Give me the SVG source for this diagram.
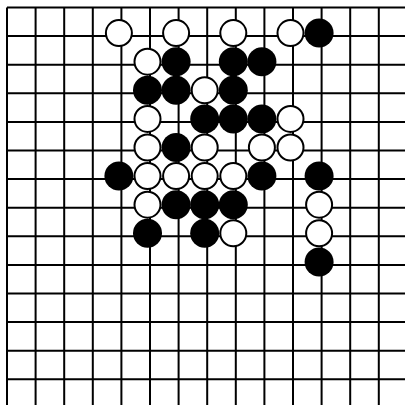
<svg xmlns="http://www.w3.org/2000/svg" width="405" height="405" viewBox="0 0 405 405">
<style>
.grid{stroke:#000;stroke-width:2;fill:none}
.b{fill:#000}
.w{fill:#fff;stroke:#000;stroke-width:2}
</style>
<rect width="405" height="405" fill="#fff"/>
<g id="grid" class="grid">
<path d="M7 7.5V405M35.6 7.5V405M64.2 7.5V405M92.8 7.5V405M121.4 7.5V405M150 7.5V405M178.6 7.5V405M207.2 7.5V405M235.8 7.5V405M264.4 7.5V405M293 7.5V405M321.6 7.5V405M350.2 7.5V405M378.8 7.5V405"/>
<path d="M7 7.5H405M7 36.1H405M7 64.7H405M7 93.3H405M7 121.9H405M7 150.5H405M7 179.1H405M7 207.7H405M7 236.3H405M7 264.9H405M7 293.5H405M7 322.1H405M7 350.7H405M7 379.3H405"/>
</g>
<g id="white-stones">
<circle class="w" cx="118.9" cy="33.1" r="13"/>
<circle class="w" cx="176.1" cy="33.1" r="13"/>
<circle class="w" cx="233.3" cy="33.1" r="13"/>
<circle class="w" cx="290.5" cy="33.1" r="13"/>
<circle class="w" cx="147.5" cy="61.7" r="13"/>
<circle class="w" cx="204.7" cy="90.3" r="13"/>
<circle class="w" cx="147.5" cy="118.9" r="13"/>
<circle class="w" cx="290.5" cy="118.9" r="13"/>
<circle class="w" cx="147.5" cy="147.5" r="13"/>
<circle class="w" cx="204.7" cy="147.5" r="13"/>
<circle class="w" cx="261.9" cy="147.5" r="13"/>
<circle class="w" cx="290.5" cy="147.5" r="13"/>
<circle class="w" cx="147.5" cy="176.1" r="13"/>
<circle class="w" cx="176.1" cy="176.1" r="13"/>
<circle class="w" cx="204.7" cy="176.1" r="13"/>
<circle class="w" cx="233.3" cy="176.1" r="13"/>
<circle class="w" cx="147.5" cy="204.7" r="13"/>
<circle class="w" cx="319.1" cy="204.7" r="13"/>
<circle class="w" cx="233.3" cy="233.3" r="13"/>
<circle class="w" cx="319.1" cy="233.3" r="13"/>
</g>
<g id="black-stones">
<circle class="b" cx="319.1" cy="33.1" r="14.5"/>
<circle class="b" cx="176.1" cy="61.7" r="14.5"/>
<circle class="b" cx="233.3" cy="61.7" r="14.5"/>
<circle class="b" cx="261.9" cy="61.7" r="14.5"/>
<circle class="b" cx="147.5" cy="90.3" r="14.5"/>
<circle class="b" cx="176.1" cy="90.3" r="14.5"/>
<circle class="b" cx="233.3" cy="90.3" r="14.5"/>
<circle class="b" cx="204.7" cy="118.9" r="14.5"/>
<circle class="b" cx="233.3" cy="118.9" r="14.5"/>
<circle class="b" cx="261.9" cy="118.9" r="14.5"/>
<circle class="b" cx="176.1" cy="147.5" r="14.5"/>
<circle class="b" cx="118.9" cy="176.1" r="14.5"/>
<circle class="b" cx="261.9" cy="176.1" r="14.5"/>
<circle class="b" cx="319.1" cy="176.1" r="14.5"/>
<circle class="b" cx="176.1" cy="204.7" r="14.5"/>
<circle class="b" cx="204.7" cy="204.7" r="14.5"/>
<circle class="b" cx="233.3" cy="204.7" r="14.5"/>
<circle class="b" cx="147.5" cy="233.3" r="14.5"/>
<circle class="b" cx="204.7" cy="233.3" r="14.5"/>
<circle class="b" cx="319.1" cy="261.9" r="14.5"/>
</g>
</svg>
